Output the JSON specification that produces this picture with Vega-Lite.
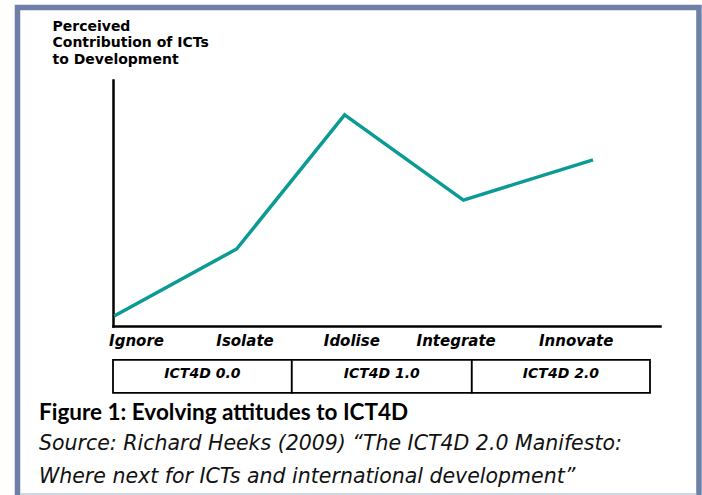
{
  "$schema": "https://vega.github.io/schema/vega-lite/v6.json",
  "width": 547,
  "height": 246,
  "autosize": {"type": "none"},
  "padding": {"left": 113, "top": 80, "right": 42, "bottom": 169},
  "background": "white",
  "config": {"view": {"stroke": null}},
  "resolve": {"axis": {"x": "independent", "y": "independent"}},
  "datasets": {
    "curve": [
      {"stage": "Ignore", "position": 0.01, "contribution": 0.41},
      {"stage": "Isolate", "position": 1.03, "contribution": 3.13},
      {"stage": "Idolise", "position": 1.93, "contribution": 8.58},
      {"stage": "Integrate", "position": 2.92, "contribution": 5.12},
      {"stage": "Innovate", "position": 4.0, "contribution": 6.75}
    ],
    "labels": [
      {"stage": "Ignore", "position": 0.196},
      {"stage": "Isolate", "position": 1.1},
      {"stage": "Idolise", "position": 1.99},
      {"stage": "Integrate", "position": 2.86},
      {"stage": "Innovate", "position": 3.86}
    ],
    "phases": [
      {"phase": "ICT4D 0.0", "start": 0, "end": 1.49},
      {"phase": "ICT4D 1.0", "start": 1.49, "end": 2.99},
      {"phase": "ICT4D 2.0", "start": 2.99, "end": 4.475}
    ],
    "caption": [
      {"part": "title", "text": "Figure 1: Evolving attitudes to ICT4D"},
      {"part": "source1", "text": "Source: Richard Heeks (2009) “The ICT4D 2.0 Manifesto:"},
      {"part": "source2", "text": "Where next for ICTs and international development”"}
    ],
    "frame": [{"item": "border"}]
  },
  "layer": [
    {
      "data": {"name": "frame"},
      "mark": {"type": "rect", "filled": false, "stroke": "#6E80A8", "strokeWidth": 5.5},
      "encoding": {
        "x": {"datum": -0.7958, "type": "quantitative", "scale": {"domain": [0, 4.5583], "nice": false, "zero": false}, "axis": null},
        "x2": {"datum": 4.883},
        "y": {"datum": 12.947, "type": "quantitative", "scale": {"domain": [0, 10], "nice": false, "zero": false}, "axis": null},
        "y2": {"datum": -7.3}
      }
    },
    {
      "data": {"name": "frame"},
      "mark": {"type": "rule", "stroke": "#CED6E1", "strokeWidth": 3},
      "encoding": {
        "x": {"datum": -0.77, "type": "quantitative", "scale": {"domain": [0, 4.5583], "nice": false, "zero": false}, "axis": null},
        "x2": {"datum": 4.86},
        "y": {"datum": -6.85, "type": "quantitative", "scale": {"domain": [0, 10], "nice": false, "zero": false}, "axis": null}
      }
    },
    {
      "data": {"name": "curve"},
      "mark": {"type": "line", "color": "#0C9B94", "strokeWidth": 3.5},
      "encoding": {
        "x": {
          "field": "position", "type": "quantitative",
          "scale": {"domain": [0, 4.5583], "nice": false, "zero": false},
          "axis": {"domain": true, "domainColor": "black", "domainWidth": 2.5, "domainCap": "square", "ticks": false, "labels": false, "grid": false, "title": null}
        },
        "y": {
          "field": "contribution", "type": "quantitative",
          "scale": {"domain": [0, 10], "nice": false, "zero": false},
          "axis": {
            "domain": true, "domainColor": "black", "domainWidth": 2.5, "domainCap": "square", "ticks": false, "labels": false, "grid": false,
            "title": ["Perceived", "Contribution of ICTs", "to Development"],
            "titleAngle": 0, "titleAlign": "left", "titleBaseline": "top",
            "titleX": -61, "titleY": -61, "titleLineHeight": 16.5,
            "titleFont": "DejaVu Sans", "titleFontSize": 14, "titleFontWeight": "bold", "titleColor": "black"
          }
        }
      }
    },
    {
      "data": {"name": "labels"},
      "mark": {"type": "text", "font": "DejaVu Sans", "fontSize": 15, "fontWeight": "bold", "fontStyle": "oblique", "color": "black", "align": "center", "baseline": "alphabetic"},
      "encoding": {
        "x": {"field": "position", "type": "quantitative", "scale": {"domain": [0, 4.5583], "nice": false, "zero": false}, "axis": null},
        "y": {"datum": -0.8, "type": "quantitative", "scale": {"domain": [0, 10], "nice": false, "zero": false}, "axis": null},
        "text": {"field": "stage"}
      }
    },
    {
      "data": {"name": "phases"},
      "mark": {"type": "rect", "fill": "white", "stroke": "black", "strokeWidth": 1.8},
      "encoding": {
        "x": {"field": "start", "type": "quantitative", "scale": {"domain": [0, 4.5583], "nice": false, "zero": false}, "axis": null},
        "x2": {"field": "end"},
        "y": {"datum": -1.38, "type": "quantitative", "scale": {"domain": [0, 10], "nice": false, "zero": false}, "axis": null},
        "y2": {"datum": -2.72}
      }
    },
    {
      "data": {"name": "phases"},
      "transform": [{"fold": ["start", "end"], "as": ["edge", "bound"]}],
      "mark": {"type": "text", "font": "DejaVu Sans", "fontSize": 14, "fontWeight": "bold", "fontStyle": "oblique", "color": "black", "align": "center", "baseline": "middle"},
      "encoding": {
        "x": {"aggregate": "mean", "field": "bound", "type": "quantitative", "scale": {"domain": [0, 4.5583], "nice": false, "zero": false}, "axis": null},
        "y": {"datum": -1.97, "type": "quantitative", "scale": {"domain": [0, 10], "nice": false, "zero": false}, "axis": null},
        "text": {"field": "phase"}
      }
    },
    {
      "data": {"name": "caption"},
      "transform": [{"filter": "datum.part === 'title'"}],
      "mark": {"type": "text", "font": "Lato", "fontSize": 22.5, "fontWeight": "bold", "color": "black", "align": "left", "baseline": "alphabetic"},
      "encoding": {
        "x": {"datum": -0.617, "type": "quantitative", "scale": {"domain": [0, 4.5583], "nice": false, "zero": false}, "axis": null},
        "y": {"datum": -3.82, "type": "quantitative", "scale": {"domain": [0, 10], "nice": false, "zero": false}, "axis": null},
        "text": {"field": "text"}
      }
    },
    {
      "data": {"name": "caption"},
      "transform": [{"filter": "datum.part === 'source1'"}],
      "mark": {"type": "text", "font": "DejaVu Sans", "fontSize": 20.5, "fontStyle": "oblique", "color": "#111111", "align": "left", "baseline": "alphabetic"},
      "encoding": {
        "x": {"datum": -0.617, "type": "quantitative", "scale": {"domain": [0, 4.5583], "nice": false, "zero": false}, "axis": null},
        "y": {"datum": -5.04, "type": "quantitative", "scale": {"domain": [0, 10], "nice": false, "zero": false}, "axis": null},
        "text": {"field": "text"}
      }
    },
    {
      "data": {"name": "caption"},
      "transform": [{"filter": "datum.part === 'source2'"}],
      "mark": {"type": "text", "font": "DejaVu Sans", "fontSize": 20.5, "fontStyle": "oblique", "color": "#111111", "align": "left", "baseline": "alphabetic"},
      "encoding": {
        "x": {"datum": -0.617, "type": "quantitative", "scale": {"domain": [0, 4.5583], "nice": false, "zero": false}, "axis": null},
        "y": {"datum": -6.38, "type": "quantitative", "scale": {"domain": [0, 10], "nice": false, "zero": false}, "axis": null},
        "text": {"field": "text"}
      }
    }
  ]
}
